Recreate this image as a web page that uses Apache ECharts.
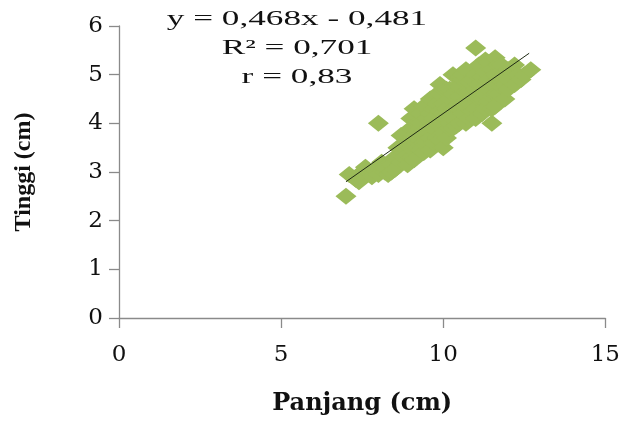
<!DOCTYPE html>
<html>
<head>
<meta charset="utf-8">
<script src="https://cdn.jsdelivr.net/npm/echarts@6/dist/echarts.min.js"></script>
<style>html,body{margin:0;padding:0;background:#fff;}#c{width:623px;height:421px;}</style>
</head>
<body>
<div id="c"></div>
<script>
// Panjang (cm) values
const panjang = [
  7.0, 7.1, 7.3, 7.4, 7.5, 7.6, 7.7, 7.8, 7.9, 8.0, 8.0,
  8.1, 8.2, 8.2, 8.3, 8.4, 8.4, 8.5, 8.5,
  8.6, 8.6, 8.7, 8.7, 8.8, 8.8, 8.8, 8.9, 8.9, 9.0, 9.0, 9.0, 9.0, 9.0,
  9.1, 9.1, 9.2, 9.2, 9.2, 9.2, 9.3, 9.3, 9.3, 9.4, 9.4, 9.4, 9.4, 9.5, 9.5, 9.5,
  9.6, 9.6, 9.6, 9.6, 9.7, 9.7, 9.7, 9.7, 9.8, 9.8, 9.8, 9.8, 9.9, 9.9, 9.9, 9.9, 9.9,
  10.0, 10.0, 10.0, 10.0, 10.0,
  10.1, 10.1, 10.1, 10.1, 10.2, 10.2, 10.2, 10.2, 10.3, 10.3, 10.3, 10.3, 10.3,
  10.4, 10.4, 10.4, 10.5, 10.5, 10.5, 10.5,
  10.6, 10.6, 10.6, 10.6, 10.7, 10.7, 10.7, 10.7, 10.8, 10.8, 10.8, 10.8,
  10.9, 10.9, 10.9, 11.0, 11.0, 11.0, 11.0, 11.0,
  11.1, 11.1, 11.1, 11.2, 11.2, 11.2, 11.2, 11.3, 11.3, 11.3, 11.3,
  11.4, 11.4, 11.4, 11.4, 11.5, 11.5, 11.5, 11.5, 11.5,
  11.6, 11.6, 11.6, 11.6, 11.7, 11.7, 11.7, 11.8, 11.8, 11.8,
  11.9, 11.9, 12.0, 12.0, 12.0, 12.1,
  12.2, 12.2, 12.3, 12.4, 12.5, 12.7
];
// Tinggi (cm) values
const tinggi = [
  2.5, 2.95, 2.85, 2.8, 3.0, 3.1, 3.0, 2.9, 3.05, 4.0, 2.95,
  3.2, 3.0, 3.1, 2.95, 3.15, 3.0, 3.3, 3.05,
  3.5, 3.3, 3.75, 3.2, 3.4, 3.5, 3.3, 3.6, 3.15, 3.9, 3.3, 3.5, 3.7, 4.1,
  4.3, 3.25, 3.7, 4.0, 3.5, 3.85, 3.45, 4.2, 4.0, 3.85, 3.4, 3.6, 4.35, 4.1, 3.6, 3.85,
  4.5, 3.45, 3.7, 4.2, 3.9, 4.3, 3.6, 4.1, 3.7, 4.6, 4.0, 4.4, 4.8, 4.05, 3.65, 4.25, 4.6,
  3.5, 4.4, 3.8, 4.2, 4.7,
  4.7, 4.1, 3.7, 4.3, 3.9, 4.5, 4.0, 4.7, 5.0, 3.9, 4.3, 4.1, 4.6,
  4.75, 3.95, 4.35, 4.0, 4.55, 4.95, 4.75,
  4.2, 4.4, 4.9, 5.0, 5.1, 4.65, 4.0, 4.35, 4.1, 4.4, 4.65, 4.85,
  4.9, 4.25, 4.55, 5.55, 4.3, 4.7, 4.1, 5.0,
  5.2, 4.5, 4.8, 4.5, 4.95, 4.2, 4.7, 4.3, 5.3, 4.6, 5.05,
  4.7, 4.45, 4.9, 5.25, 4.0, 5.1, 4.3, 4.55, 4.8,
  5.35, 4.6, 4.35, 5.0, 4.9, 4.6, 5.2, 5.2, 4.75, 4.95,
  4.5, 4.8, 5.1, 4.7, 4.9, 5.05,
  5.2, 4.8, 5.0, 4.9, 5.0, 5.1
];
// trend line end points
const trendX = [7.0, 12.65];
const trendY = [2.80, 5.44];
const xTicks = [0, 5, 10, 15];
const yTicks = [0, 1, 2, 3, 4, 5, 6];
const annotation = ['y = 0,468x - 0,481', 'R\u00B2 = 0,701', 'r = 0,83'];

const points = panjang.map((x, i) => [x, tinggi[i]]);
const trend = trendX.map((x, i) => [x, trendY[i]]);

const chart = echarts.init(document.getElementById('c'), null, {renderer: 'canvas'});
const axisCommon = {
  axisLine: {show: true, lineStyle: {color: '#8a8a8a', width: 1.3}},
  axisTick: {show: true, length: 10, lineStyle: {color: '#8a8a8a', width: 1.3}},
  splitLine: {show: false},
  axisLabel: {color: '#111', fontFamily: 'DejaVu Serif', fontSize: 23}
};
chart.setOption({
  animation: false,
  backgroundColor: '#fff',
  grid: {left: 119, right: 14, top: 26, bottom: 99},
  xAxis: Object.assign({}, axisCommon, {
    type: 'value', min: xTicks[0], max: xTicks[xTicks.length - 1], interval: 5,
    name: 'Panjang (cm)', nameLocation: 'middle', nameGap: 74,
    nameTextStyle: {fontFamily: 'DejaVu Serif', fontWeight: 'bold', fontSize: 24, color: '#111'},
    axisLabel: Object.assign({}, axisCommon.axisLabel, {margin: 26})
  }),
  yAxis: Object.assign({}, axisCommon, {
    type: 'value', min: yTicks[0], max: yTicks[yTicks.length - 1], interval: 1,
    name: 'Tinggi (cm)', nameLocation: 'middle', nameGap: 83,
    nameTextStyle: {fontFamily: 'Liberation Serif', fontWeight: 'bold', fontSize: 24, color: '#111'},
    axisLabel: Object.assign({}, axisCommon.axisLabel, {margin: 16})
  }),
  graphic: annotation.map((t, i) => ({
    type: 'text', x: 297, y: 19 + i * 29, scaleX: 1.6,
    style: {text: t, fontFamily: 'Liberation Serif', fontSize: 22, fill: '#111',
      align: 'center', verticalAlign: 'middle'},
    z: 100
  })),
  series: [
    {
      type: 'scatter', data: points, symbol: 'diamond', symbolSize: [21, 17],
      itemStyle: {color: '#9bbb59', opacity: 1}, z: 2
    },
    {
      type: 'line', data: trend, symbol: 'none', silent: true,
      lineStyle: {color: '#1f2a14', width: 1}, z: 3
    }
  ]
});
</script>
</body>
</html>
